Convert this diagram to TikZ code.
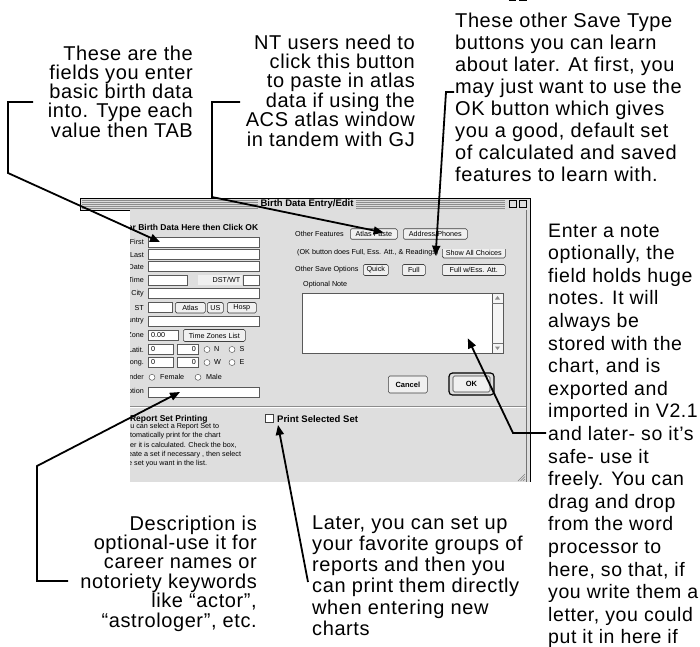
\documentclass[tikz,border=0pt]{standalone}
\usepackage{fontspec}
\setmainfont{Liberation Sans}
\newfontfamily\callfont[LetterSpace=3]{Liberation Sans}
\usetikzlibrary{arrows.meta}

\newcommand{\guisize}{\fontsize{7.2pt}{8.6pt}\selectfont}
\newcommand{\guibold}{\fontsize{8.5pt}{9pt}\selectfont\bfseries}

\tikzset{
  callout/.style={inner sep=0pt, font={\callfont\fontsize{20pt}{#1}\selectfont}},
  callline/.style={line width=1.8pt, line join=miter},
  tipped/.style={-{Triangle[length=10pt,width=8pt]}},
  field/.style={draw=black!65, fill=white, minimum height=10pt, inner sep=0pt, line width=0.6pt},
  btn/.style={draw=black!75, fill=black!6, rounded corners=1.5pt, minimum height=10.5pt, inner sep=0pt, font=\guisize, line width=0.6pt},
  lbl/.style={inner sep=0pt, font=\guisize},
  radio/.style={circle, draw=black!75, fill=white, minimum size=6pt, inner sep=0pt},
  radioon/.style={radio, path picture={\fill (path picture bounding box.center) circle (1.6pt);}},
}

\begin{document}
\begin{tikzpicture}[x=1pt, y=-1pt]
  \useasboundingbox (0,0) rectangle (700,646);
  \fill[white] (0,0) rectangle (700,646);

  % window frame and title bar
  \fill[black!14] (80,198) rectangle (530,210);
  \foreach \s in {200.5,202.5,...,208.5}
    \draw[black!45, line width=0.5pt] (82,\s) -- (528,\s);
  \draw[black, line width=0.8pt] (80,198) rectangle (530,210);
  \node[fill=black!14, font=\fontsize{9.5pt}{10pt}\selectfont\bfseries, inner xsep=3pt, inner ysep=0pt] (title) at (307,204.3) {Birth Data Entry/Edit};
  \fill[black!14] (505,199) rectangle (529,209.5);
  \node[draw, fill=black!14, minimum size=7pt, inner sep=0pt, line width=0.5pt] (collapse) at (512.5,204) {};
  \node[draw, fill=black!14, minimum size=7pt, inner sep=0pt, line width=0.5pt] (zoombox) at (523,204) {};
  \draw[line width=0.5pt] (collapse.west |- 205.5,0) -- (collapse.east |- 205.5,0);
  \draw[line width=0.5pt] (zoombox.west |- 203,0) -- (zoombox.east |- 203,0);
  \draw[line width=0.5pt] (zoombox.west |- 205,0) -- (zoombox.east |- 205,0);

  \fill[black!13] (130,210) rectangle (530,482);
  \draw[black, line width=0.8pt] (530,198) -- (530,482);
  \draw[black!55, line width=0.5pt] (526.5,210) -- (526.5,482);

  \begin{scope}
    \clip (130,210) rectangle (530,482);
    \node[lbl, font=\guibold, anchor=west] (heading) at (114,227.5) {Enter Birth Data Here then Click OK};

    % labels of the birth data fields
    \foreach \y/\t/\n in {242/First/first, 254.7/Last/last, 266.7/Date/date, 280/Time/time,
        293.3/City/city, 307.7/ST/st, 321/Country/country, 335.5/Zone/zone,
        349.5/Latit./latit, 362.5/Long./long, 377.3/Gender/gender, 392/Description/desc}
      \node[lbl, anchor=east] (l\n) at (144,\y) {\t};

    \foreach \y/\n in {242/first, 254.7/last, 266.7/date, 293.3/city, 321/country, 392/desc}
      \node[field, minimum width=111pt, anchor=west] (\n) at (148,\y) {};

    \node[field, minimum width=39pt, anchor=west] (time) at (148,280) {};
    \node[fill=black!6, minimum width=44pt, minimum height=10pt, inner sep=0pt, anchor=west] (dstbg) at (198,280) {};
    \node[lbl, anchor=east] (dst) at (240.5,280) {DST/WT};
    \node[field, minimum width=16pt, anchor=west] (dstbox) at (243,280) {};

    \node[field, minimum width=24pt, anchor=west] (st) at (148,307.7) {};
    \node[btn, minimum width=30pt, anchor=west] (atlas) at (175,307.7) {Atlas};
    \node[btn, minimum width=16pt, anchor=west] (us) at (207,307.7) {US};
    \node[btn, minimum width=29pt, anchor=west] (hosp) at (227,307.7) {Hosp};

    \node[field, minimum width=30pt, anchor=west] (zonebox) at (148,335.5) {};
    \node[lbl, anchor=west] (zoneval) at (151,335.5) {0.00};
    \node[btn, minimum width=62pt, minimum height=12pt, anchor=west] (tzlist) at (183,335.5) {Time Zones List};

    % latitude and longitude rows
    \foreach \y/\n/\a/\b in {349.5/lat/N/S, 362.5/lon/W/E} {
      \node[field, minimum width=25pt, anchor=west] (\n deg) at (148,\y) {};
      \node[lbl, anchor=west] (\n degval) at (151,\y) {0};
      \node[field, minimum width=21pt, anchor=west] (\n min) at (177,\y) {};
      \node[lbl, anchor=east] (\n minval) at (196,\y) {0};
      \node[radioon] (\n one) at (207,\y) {};
      \node[lbl, anchor=west] (\n onetxt) at (214,\y) {\a};
      \node[radio] (\n two) at (232,\y) {};
      \node[lbl, anchor=west] (\n twotxt) at (239.5,\y) {\b};
    }

    \node[radioon] (female) at (152,377.3) {};
    \node[lbl, anchor=west] (femaletxt) at (160,377.3) {Female};
    \node[radio] (male) at (198,377.3) {};
    \node[lbl, anchor=west] (maletxt) at (206,377.3) {Male};

    % right half
    \node[lbl, anchor=west] (otherfeat) at (295,234) {Other Features};
    \node[btn, minimum width=47pt, anchor=west] (atlaspaste) at (350,234) {Atlas Paste};
    \node[btn, minimum width=64pt, anchor=west] (address) at (403,234) {Address/Phones};
    \begin{scope}
      \clip (290,249.5) rectangle (510,262);
      \node[lbl, anchor=west] (okhint) at (297,252.7) {(OK button does Full, Ess. Att., \& Readings)};
      \node[btn, minimum width=63pt, anchor=west] (showall) at (442,252.7) {Show All Choices};
    \end{scope}
    \node[lbl, anchor=west] (othersave) at (295,270) {Other Save Options};
    \node[btn, minimum width=25pt, minimum height=11pt, anchor=west] (quick) at (363,270) {Quick};
    \node[btn, minimum width=23pt, minimum height=11pt, anchor=west] (fullbtn) at (402,270) {Full};
    \node[btn, minimum width=63pt, minimum height=11pt, anchor=west] (fullwess) at (442,270) {Full w/Ess. Att.};
    \node[lbl, anchor=west] (notelbl) at (303,285) {Optional Note};
    \node[field, minimum width=201pt, minimum height=60pt, anchor=north west] (note) at (302,293) {};
    \node[draw=black!65, fill=black!4, minimum width=11pt, minimum height=60pt, inner sep=0pt, line width=0.6pt, anchor=north east] (scroll) at (note.north east) {};
    \draw[black!55, line width=0.5pt] (492,303) -- (503,303) (492,343) -- (503,343);
    \fill[black!45] (497.5,296) -- (495,299.5) -- (500,299.5) -- cycle;
    \fill[black!45] (497.5,350) -- (495,346.5) -- (500,346.5) -- cycle;

    \node[btn, font=\fontsize{7.5pt}{8pt}\selectfont\bfseries, minimum width=39pt, minimum height=17pt, anchor=west] (cancel) at (388,384.5) {Cancel};
    \node[draw=black, line width=1.2pt, rounded corners=3.5pt, minimum width=45pt, minimum height=22pt, inner sep=0pt] (okring) at (471.5,384) {};
    \node[btn, font=\fontsize{7.5pt}{8pt}\selectfont\bfseries, minimum width=37pt, minimum height=16pt] (okbtn) at (471.5,384) {OK};

    % report set section
    \draw[black!45, line width=0.6pt] (130,406.5) -- (526,406.5);
    \draw[white, line width=0.6pt] (130,407.5) -- (526,407.5);
    \node[lbl, font=\guibold, anchor=west] (rsptitle) at (93,419) {Optional Report Set Printing};
    \node[anchor=north west, inner sep=0pt, font={\fontsize{7.2pt}{9.3pt}\selectfont}, align=left] (rsptext) at (122,423)
      {You can select a Report Set to\\automatically print for the chart\\after it is calculated. Check the box,\\create a set if necessary , then select\\the set you want in the list.};
    \node[draw=black!75, fill=white, minimum size=8pt, inner sep=0pt, line width=0.6pt] (chk) at (269,418.5) {};
    \node[lbl, font=\fontsize{9.5pt}{10pt}\selectfont\bfseries, anchor=west] (printsel) at (277,419) {Print Selected Set};
    \foreach \d in {3,5.5,8}
      \draw[black!50, line width=0.5pt] (526-\d,481) -- (525,480-\d+2);
  \end{scope}

  % callout texts (base anchor sits on the last line)
  \node[callout=19.3pt, align=right, anchor=base east] (fieldsnote) at (193,137.2)
    {These are the\\fields you enter\\basic birth data\\into. Type each\\value then TAB};
  \node[callout=19.4pt, align=right, anchor=base east] (ntnote) at (415,146)
    {NT users need to\\click this button\\to paste in atlas\\data if using the\\ACS atlas window\\in tandem with GJ};
  \node[callout=22pt, align=left, anchor=base west] (savenote) at (455,181)
    {These other Save Type\\buttons you can learn\\about later. At first, you\\may just want to use the\\OK button which gives\\you a good, default set\\of calculated and saved\\features to learn with.};
  \node[callout=22.6pt, font={\callfont\fontsize{19.5pt}{22.6pt}\selectfont}, align=left, anchor=base west] (notenote) at (548,643.8)
    {Enter a note\\optionally, the\\field holds huge\\notes. It will\\always be\\stored with the\\chart, and is\\exported and\\imported in V2.1\\and later- so it’s\\safe- use it\\freely. You can\\drag and drop\\from the word\\processor to\\here, so that, if\\you write them a\\letter, you could\\put it in here if};
  \node[callout=19.4pt, align=right, anchor=base east] (descnote) at (257,627)
    {Description is\\optional-use it for\\career names or\\notoriety keywords\\like “actor”,\\“astrologer”, etc.};
  \node[callout=21.3pt, align=left, anchor=base west] (laternote) at (312,635.5)
    {Later, you can set up\\your favorite groups of\\reports and then you\\can print them directly\\when entering new\\charts};

  % callout connectors
  \coordinate (aStart) at (33,102);
  \coordinate (aTop) at (8,102);
  \coordinate (aLow) at (8,173);
  \draw[callline, tipped] (aStart) -- (aTop) -- (aLow) -- ([xshift=12pt]first.west);

  \coordinate (bStart) at (240,102);
  \coordinate (bTop) at (212,102);
  \coordinate (bLow) at (212,197);
  \draw[callline, tipped] (bStart) -- (bTop) -- (bLow) -- ([xshift=-14pt,yshift=1.5pt]atlaspaste.east);

  \coordinate (cStart) at (454,92);
  \coordinate (cTop) at (446,92);
  \draw[callline, tipped] (cStart) -- (cTop) -- ([xshift=10pt,yshift=8.5pt]fullbtn.north east);

  \coordinate (dStart) at (546,433);
  \coordinate (dLow) at (513,433);
  \draw[callline, tipped] (dStart) -- (dLow) -- ([xshift=65pt,yshift=-15pt]note.center);

  \coordinate (eStart) at (68,581);
  \coordinate (eLow) at (37,581);
  \coordinate (eTop) at (37,466);
  \draw[callline, tipped] (eStart) -- (eLow) -- (eTop) -- ([xshift=32pt]desc.west);

  \coordinate (fStart) at (308,582);
  \draw[callline, tipped] (fStart) -- ([xshift=9pt,yshift=-6.5pt]chk.center);
\end{tikzpicture}
\end{document}
